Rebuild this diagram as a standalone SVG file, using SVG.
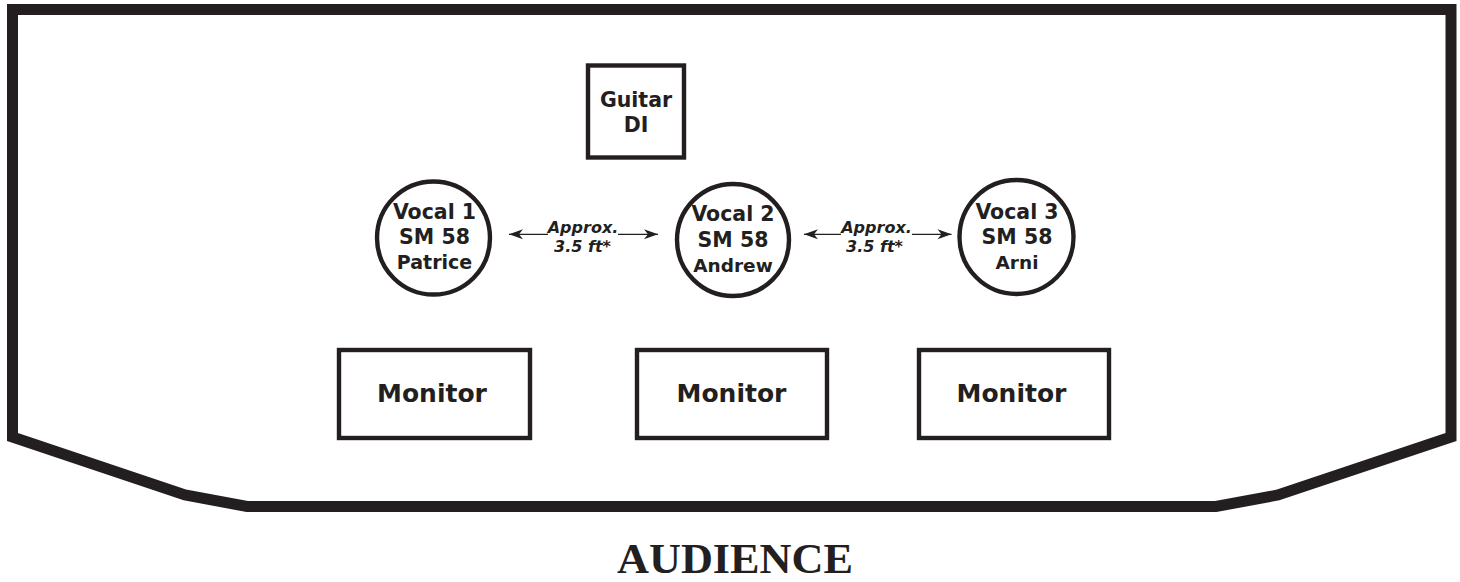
<svg xmlns="http://www.w3.org/2000/svg" width="1460" height="582" viewBox="0 0 1460 582">
<defs>
<style>
.bd{fill:none;stroke:#231f20;stroke-width:11;stroke-linejoin:miter}
.nd{fill:#fff;stroke:#231f20;stroke-width:4.4}
.t{font-family:"DejaVu Sans",Verdana,sans-serif;font-weight:bold;fill:#231f20;text-anchor:middle}
.t20{font-size:20.5px}
.t19{font-size:19px}
.t18{font-size:18.5px}
.tm{font-size:25px}
.ti{font-size:16px;font-style:italic}
.cn{stroke:#231f20;stroke-width:1.3;fill:none}
.aud{font-family:"Liberation Serif","Times New Roman",serif;font-weight:bold;font-size:43px;fill:#231f20;text-anchor:middle}
</style>
<marker id="ah" viewBox="-15 -6 16 12" markerWidth="16" markerHeight="12" refX="0" refY="0" markerUnits="userSpaceOnUse" orient="auto">
<path d="M0,0 L-14,-5 L-10,0 L-14,5 Z" fill="#231f20"/>
</marker>
</defs>
<rect width="1460" height="582" fill="#fff"/>
<g id="stage">
<path class="bd" d="M12.5,437 L12.5,9.5 L1451,9.5 L1451,437 L1278,495 L1216,506.5 L247,506.5 L185,495 Z"/>
</g>
<g id="guitar-di">
<rect class="nd" x="588" y="65.5" width="96" height="92"/>
<text class="t t20" x="636" y="107">Guitar</text>
<text class="t t20" x="636" y="132">DI</text>
</g>
<g id="vocal1">
<circle class="nd" cx="433.5" cy="238" r="56.5"/>
<text class="t t20" x="434.5" y="219">Vocal 1</text>
<text class="t t20" x="434.5" y="244">SM 58</text>
<text class="t t19" x="434.5" y="269">Patrice</text>
</g>
<g id="vocal2">
<circle class="nd" cx="733" cy="240" r="56"/>
<text class="t t20" x="733" y="221">Vocal 2</text>
<text class="t t20" x="733" y="246.5">SM 58</text>
<text class="t t18" x="733" y="271.5">Andrew</text>
</g>
<g id="vocal3">
<circle class="nd" cx="1016.5" cy="237" r="57"/>
<text class="t t20" x="1017" y="219">Vocal 3</text>
<text class="t t20" x="1017" y="244">SM 58</text>
<text class="t t18" x="1017" y="269">Arni</text>
</g>
<g id="monitor1">
<rect class="nd" x="339" y="350" width="191" height="88"/>
<text class="t tm" x="432" y="401.5">Monitor</text>
</g>
<g id="monitor2">
<rect class="nd" x="637" y="350" width="190" height="88"/>
<text class="t tm" x="731.5" y="401.5">Monitor</text>
</g>
<g id="monitor3">
<rect class="nd" x="919" y="350" width="190" height="88"/>
<text class="t tm" x="1011.5" y="401.5">Monitor</text>
</g>
<g id="connectors">
<line class="cn" x1="548" y1="234.3" x2="509" y2="234.3" marker-end="url(#ah)"/>
<line class="cn" x1="618" y1="234.3" x2="658" y2="234.3" marker-end="url(#ah)"/>
<line class="cn" x1="841" y1="234.3" x2="804" y2="234.3" marker-end="url(#ah)"/>
<line class="cn" x1="912" y1="234.3" x2="951.5" y2="234.3" marker-end="url(#ah)"/>
</g>
<g id="labels">
<text class="t ti" x="583" y="233">Approx.</text>
<text class="t ti" x="582.5" y="252">3.5 ft*</text>
<text class="t ti" x="876.5" y="233">Approx.</text>
<text class="t ti" x="874.5" y="252">3.5 ft*</text>
</g>
<text class="aud" x="735" y="573" textLength="236" lengthAdjust="spacingAndGlyphs">AUDIENCE</text>
</svg>
